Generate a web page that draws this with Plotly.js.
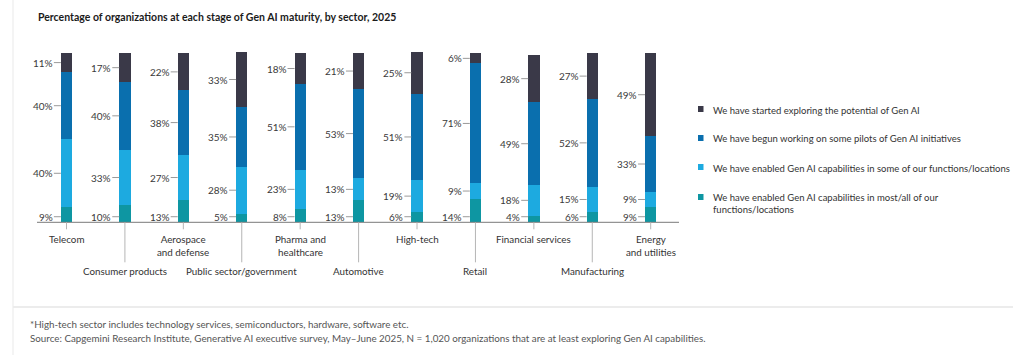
<!DOCTYPE html>
<html>
<head>
<meta charset="utf-8">
<script src="https://cdn.plot.ly/plotly-3.0.1.min.js"></script>
<style>html,body{margin:0;padding:0;background:#fff;}#chart{width:1024px;height:355px;}</style>
</head>
<body>
<div id="chart"></div>
<script>
// ---- data ----
const sectors = ["Telecom", "Consumer products", "Aerospace<br>and defense", "Public sector/government",
  "Pharma and<br>healthcare", "Automotive", "High-tech", "Retail", "Financial services",
  "Manufacturing", "Energy<br>and utilities"];
const seriesNames = [
  "We have enabled Gen AI capabilities in most/all of our<br>functions/locations",
  "We have enabled Gen AI capabilities in some of our functions/locations",
  "We have begun working on some pilots of Gen AI initiatives",
  "We have started exploring the potential of Gen AI"
];
const mostAll   = [9, 10, 13, 5, 8, 13, 6, 14, 4, 6, 9];
const someFunc  = [40, 33, 27, 28, 23, 13, 19, 9, 18, 15, 9];
const pilots    = [40, 40, 38, 35, 51, 53, 51, 71, 49, 52, 33];
const exploring = [11, 17, 22, 33, 18, 21, 25, 6, 28, 27, 49];
const title = "Percentage of organizations at each stage of Gen AI maturity, by sector, 2025";
const footnote1 = "*High-tech sector includes technology services, semiconductors, hardware, software etc.";
const footnote2 = "Source: Capgemini Research Institute, Generative AI executive survey, May–June 2025, N = 1,020 organizations that are at least exploring Gen AI capabilities.";

// ---- styles / layout geometry ----
const colors = ["#0E96A2", "#1DAAE0", "#0A6FAE", "#3A3948"];
const W = 1024, H = 355;
const x0px = 66.5, stepPx = 58.42;          // pixel centre of first bar, spacing
const baseY = 222.3, pxPerPct = 1.69;       // baseline pixel, px per percentage point
const barW = 0.193;
const FONT = "Lato, 'Open Sans', sans-serif";
const px = v => v / W;
const py = v => 1 - v / H;

const series = [mostAll, someFunc, pilots, exploring];
const xs = sectors.map((_, i) => i);

const traces = series.map((vals, k) => ({
  type: "bar", x: xs, y: vals, width: barW, name: seriesNames[k],
  marker: {color: colors[k], line: {width: 0}},
  showlegend: false, hoverinfo: "skip"
}));

const shapes = [];
const annotations = [];

// frame lines
shapes.push({type: "line", xref: "paper", yref: "paper", x0: px(13), x1: px(13), y0: 0, y1: 1,
  line: {color: "#e9e9e9", width: 1}});
shapes.push({type: "line", xref: "paper", yref: "paper", x0: px(13), x1: px(1013), y0: py(307), y1: py(307),
  line: {color: "#ececec", width: 2}});
// baseline
shapes.push({type: "line", xref: "paper", yref: "y", x0: px(37), x1: px(679), y0: 0, y1: 0,
  line: {color: "#7a7a7a", width: 1}});

// category labels and tick lines
sectors.forEach((name, i) => {
  const low = i % 2 === 1;
  const drop = low ? 40 : 7;
  shapes.push({type: "line", xref: "x", yref: "y", x0: i, x1: i, y0: 0, y1: -drop / pxPerPct,
    line: {color: "#b5b5b5", width: 1}});
  annotations.push({x: i, y: 0, xref: "x", yref: "y", text: name, showarrow: false,
    xanchor: "center", yanchor: "top", yshift: low ? -41 : -9, align: "center",
    font: {family: FONT, size: 9.8, color: "#333"}});
});

// value labels
const halfBar = barW / 2;
const dashLen = 7 / stepPx;
sectors.forEach((_, i) => {
  let cum = 0;
  series.forEach((vals, k) => {
    const v = vals[i];
    let mid = cum + v / 2;
    if (k === 0) mid = 3.3;
    cum += v;
    shapes.push({type: "line", xref: "x", yref: "y", x0: i - halfBar - dashLen, x1: i - halfBar, y0: mid, y1: mid,
      line: {color: "#9a9a9a", width: 1}});
    annotations.push({x: i - halfBar - dashLen, y: mid, xref: "x", yref: "y", text: v + "%", showarrow: false,
      xanchor: "right", yanchor: "middle", xshift: 0, borderpad: 0,
      font: {family: FONT, size: 10, color: "#3a3a3a"}});
  });
});

// custom legend (top item = exploring)
const legY = [109, 138, 167, 197];
[3, 2, 1, 0].forEach((k, j) => {
  shapes.push({type: "rect", xref: "paper", yref: "paper", x0: px(698), x1: px(703.5), y0: py(legY[j] + 3), y1: py(legY[j] - 3),
    fillcolor: colors[k], line: {width: 0}});
  annotations.push({xref: "paper", yref: "paper", x: px(711), y: py(legY[j] - 6.5), text: seriesNames[k],
    showarrow: false, xanchor: "left", yanchor: "top", align: "left",
    font: {family: FONT, size: 9.5, color: "#333"}});
});

// title & footnotes
annotations.push({xref: "paper", yref: "paper", x: px(36), y: py(17), text: "<b>" + title + "</b>", showarrow: false,
  xanchor: "left", yanchor: "middle", font: {family: FONT, size: 10.5, color: "#1b1b1b"}});
annotations.push({xref: "paper", yref: "paper", x: px(28), y: py(324), text: footnote1, showarrow: false,
  xanchor: "left", yanchor: "middle", font: {family: FONT, size: 9.8, color: "#555"}});
annotations.push({xref: "paper", yref: "paper", x: px(28), y: py(338), text: footnote2, showarrow: false,
  xanchor: "left", yanchor: "middle", font: {family: FONT, size: 9.8, color: "#555"}});

const layout = {
  width: W, height: H, margin: {l: 0, r: 0, t: 0, b: 0},
  paper_bgcolor: "#fff", plot_bgcolor: "rgba(0,0,0,0)",
  barmode: "stack", showlegend: false,
  xaxis: {range: [-x0px / stepPx, (W - x0px) / stepPx], visible: false, fixedrange: true},
  yaxis: {range: [-(H - baseY) / pxPerPct, baseY / pxPerPct], visible: false, fixedrange: true},
  shapes: shapes, annotations: annotations
};
Plotly.newPlot("chart", traces, layout, {staticPlot: true, displayModeBar: false});
</script>
</body>
</html>
